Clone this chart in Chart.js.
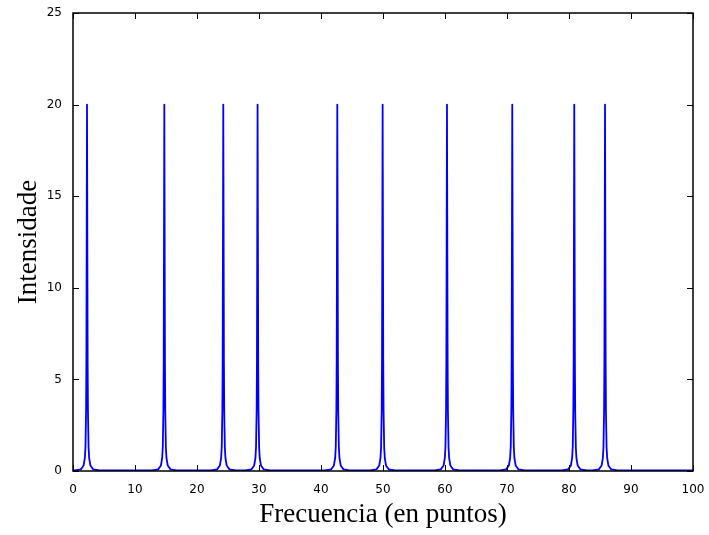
<!DOCTYPE html>
<html>
<head>
<meta charset="utf-8">
<title>Intensidade vs Frecuencia</title>
<script src="https://cdn.jsdelivr.net/npm/chart.js@4/dist/chart.umd.min.js"></script>
<style>
  body { margin: 0; background: #fff; }
  #wrap { width: 709px; height: 535px; }
</style>
</head>
<body>
<div id="wrap"><canvas id="spectrum" width="709" height="535"></canvas></div>
<script>
// Spectrum data (x in "puntos", y = intensity, clipped at 20)
const frequency = [
    0,
    0.26, 1.26, 1.71, 1.91, 2.01, 2.11, 2.16, 2.21, 2.26, 2.31, 2.36, 2.41, 2.51, 2.61, 2.81, 3.26, 4.26,
    12.73, 13.73, 14.18, 14.38, 14.48, 14.58, 14.63, 14.68, 14.73, 14.78, 14.83, 14.88, 14.98, 15.08, 15.28, 15.73, 16.73,
    22.24, 23.24, 23.69, 23.89, 23.99, 24.09, 24.14, 24.19, 24.24, 24.29, 24.34, 24.39, 24.49, 24.59, 24.79, 25.24, 26.24,
    27.77, 28.77, 29.22, 29.42, 29.52, 29.62, 29.67, 29.72, 29.77, 29.82, 29.87, 29.92, 30.02, 30.12, 30.32, 30.77, 31.77,
    40.63, 41.63, 42.08, 42.28, 42.38, 42.48, 42.53, 42.58, 42.63, 42.68, 42.73, 42.78, 42.88, 42.98, 43.18, 43.63, 44.63,
    47.94, 48.94, 49.39, 49.59, 49.69, 49.79, 49.84, 49.89, 49.94, 49.99, 50.04, 50.09, 50.19, 50.29, 50.49, 50.94, 51.94,
    58.32, 59.32, 59.77, 59.97, 60.07, 60.17, 60.22, 60.27, 60.32, 60.37, 60.42, 60.47, 60.57, 60.67, 60.87, 61.32, 62.32,
    68.85, 69.85, 70.30, 70.50, 70.60, 70.70, 70.75, 70.80, 70.85, 70.90, 70.95, 71.00, 71.10, 71.20, 71.40, 71.85, 72.85,
    78.85, 79.85, 80.30, 80.50, 80.60, 80.70, 80.75, 80.80, 80.85, 80.90, 80.95, 81.00, 81.10, 81.20, 81.40, 81.85, 82.85,
    83.81, 84.81, 85.26, 85.46, 85.56, 85.66, 85.71, 85.76, 85.81, 85.86, 85.91, 85.96, 86.06, 86.16, 86.36, 86.81, 87.81,
    100
];
const intensity = [
    0.03,
    0.03, 0.09, 0.3, 0.7, 1.3, 3.3, 6, 13, 20, 13, 6, 3.3, 1.3, 0.7, 0.3, 0.09, 0.03,
    0.03, 0.09, 0.3, 0.7, 1.3, 3.3, 6, 13, 20, 13, 6, 3.3, 1.3, 0.7, 0.3, 0.09, 0.03,
    0.03, 0.09, 0.3, 0.7, 1.3, 3.3, 6, 13, 20, 13, 6, 3.3, 1.3, 0.7, 0.3, 0.09, 0.03,
    0.03, 0.09, 0.3, 0.7, 1.3, 3.3, 6, 13, 20, 13, 6, 3.3, 1.3, 0.7, 0.3, 0.09, 0.03,
    0.03, 0.09, 0.3, 0.7, 1.3, 3.3, 6, 13, 20, 13, 6, 3.3, 1.3, 0.7, 0.3, 0.09, 0.03,
    0.03, 0.09, 0.3, 0.7, 1.3, 3.3, 6, 13, 20, 13, 6, 3.3, 1.3, 0.7, 0.3, 0.09, 0.03,
    0.03, 0.09, 0.3, 0.7, 1.3, 3.3, 6, 13, 20, 13, 6, 3.3, 1.3, 0.7, 0.3, 0.09, 0.03,
    0.03, 0.09, 0.3, 0.7, 1.3, 3.3, 6, 13, 20, 13, 6, 3.3, 1.3, 0.7, 0.3, 0.09, 0.03,
    0.03, 0.09, 0.3, 0.7, 1.3, 3.3, 6, 13, 20, 13, 6, 3.3, 1.3, 0.7, 0.3, 0.09, 0.03,
    0.03, 0.09, 0.3, 0.7, 1.3, 3.3, 6, 13, 20, 13, 6, 3.3, 1.3, 0.7, 0.3, 0.09, 0.03,
    0.03
];
const xTicks = [0, 10, 20, 30, 40, 50, 60, 70, 80, 90, 100];
const yTicks = [0, 5, 10, 15, 20, 25];

const TICK_LEN = 6;
const tickFont = { family: 'DejaVu Sans', size: 12 };
const titleFont = { family: 'Liberation Serif', size: 27 };

// gnuplot-like frame: closed box with inward ticks on all four sides
const frameTicks = {
    id: 'frameTicks',
    afterDatasetsDraw(chart) {
        const { ctx, chartArea: a, scales: { x, y } } = chart;
        ctx.save();
        ctx.strokeStyle = '#000';
        ctx.lineWidth = 1;
        ctx.beginPath();
        x.ticks.forEach(t => {
            const px = Math.round(x.getPixelForValue(t.value)) + 0.5;
            ctx.moveTo(px, a.bottom);
            ctx.lineTo(px, a.bottom - TICK_LEN);
            ctx.moveTo(px, a.top);
            ctx.lineTo(px, a.top + TICK_LEN);
        });
        y.ticks.forEach(t => {
            const py = Math.round(y.getPixelForValue(t.value)) + 0.5;
            ctx.moveTo(a.left, py);
            ctx.lineTo(a.left + TICK_LEN, py);
            ctx.moveTo(a.right, py);
            ctx.lineTo(a.right - TICK_LEN, py);
        });
        ctx.stroke();
        ctx.lineWidth = 1.5;
        ctx.strokeRect(a.left, a.top, a.right - a.left, a.bottom - a.top);
        ctx.restore();
    }
};

const points = frequency.map((f, i) => ({ x: f, y: intensity[i] }));

new Chart(document.getElementById('spectrum'), {
    type: 'line',
    data: {
        datasets: [{
            data: points,
            borderColor: '#0000ff',
            borderWidth: 1.8,
            borderJoinStyle: 'round',
            pointRadius: 0,
            tension: 0.0001, // tiny tension so every point is stroked (no fast path)
            fill: false
        }]
    },
    options: {
        responsive: false,
        animation: false,
        layout: { padding: { top: 13, right: 16, left: 0, bottom: 0 } },
        plugins: {
            legend: { display: false },
            tooltip: { enabled: false }
        },
        scales: {
            x: {
                type: 'linear',
                min: 0,
                max: 100,
                afterBuildTicks: scale => { scale.ticks = xTicks.map(v => ({ value: v })); },
                afterFit: scale => {
                    scale.height = 64;
                    scale.paddingLeft = 0;
                    scale.paddingRight = 0;
                },
                grid: { display: false, drawTicks: false },
                border: { display: false },
                ticks: { color: '#000', font: tickFont, padding: 12, maxRotation: 0 },
                title: {
                    display: true,
                    text: 'Frecuencia (en puntos)',
                    color: '#000',
                    font: titleFont,
                    padding: { top: 0, bottom: 4 }
                }
            },
            y: {
                min: 0,
                max: 25,
                afterBuildTicks: scale => { scale.ticks = yTicks.map(v => ({ value: v })); },
                afterFit: scale => {
                    scale.width = 73;
                    scale.paddingTop = 0;
                    scale.paddingBottom = 0;
                },
                grid: { display: false, drawTicks: false },
                border: { display: false },
                ticks: { color: '#000', font: tickFont, padding: 11 },
                title: {
                    display: true,
                    text: 'Intensidade',
                    color: '#000',
                    font: titleFont,
                    padding: { top: 13, bottom: 0 }
                }
            }
        }
    },
    plugins: [frameTicks]
});
</script>
</body>
</html>
